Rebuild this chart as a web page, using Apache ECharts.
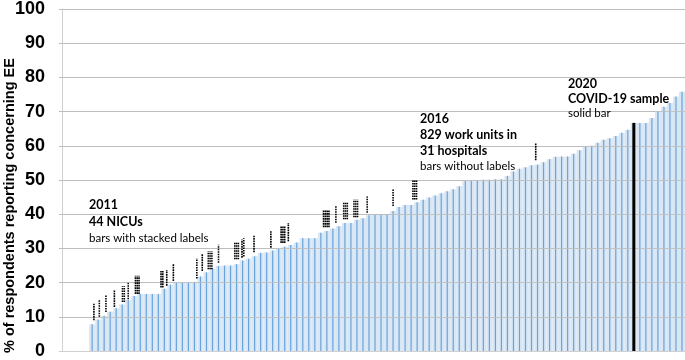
<!DOCTYPE html>
<html>
<head>
<meta charset="utf-8">
<script src="https://cdn.jsdelivr.net/npm/echarts@6/dist/echarts.min.js"></script>
<style>html,body{margin:0;padding:0;background:#fff}#c{width:685px;height:360px}</style>
</head>
<body>
<div id="c"></div>
<script>
// Rank positions (columns) along the x axis
const ranks = Array.from({length: 104}, (_, i) => String(i + 1));
// % reporting concerning EE, sorted ascending (first 5 positions empty)
const pctValues = [null, null, null, null, null,
  7.8, 9.2, 10.3, 11.5, 12.5, 13.6, 14.9, 16.1, 16.7, 16.7,
  16.7, 16.7, 18.2, 19.4, 20.1, 20.1, 20.2, 20.2, 21.8, 23,
  24.1, 24.9, 25, 25, 25.4, 26.5, 27, 27.7, 28.7, 28.8,
  29.4, 30.1, 30.5, 31, 31.7, 33, 33, 33, 34.6, 35.1,
  35.8, 36.5, 37.4, 37.4, 38.4, 38.8, 39.7, 39.8, 39.8, 39.8,
  40.9, 42.1, 42.7, 42.7, 43.5, 44.2, 44.9, 45.5, 46.1, 46.7,
  47.3, 48.2, 50, 50, 50, 50.1, 50.1, 50.2, 50.2, 51.2,
  52.5, 53.3, 53.7, 54.3, 54.5, 55.2, 56.1, 56.8, 56.9, 56.9,
  57.7, 58.7, 59.7, 60, 60.9, 61.8, 62.2, 62.9, 63.8, 64.7,
  66.7, 66.7, 66.7, 68.1, 70.2, 71.4, 72.5, 74.4, 75.8];
// 2020 COVID-19 sample (solid bar): [position, value]
const covidBar = [[95, 66.7]];
// 2011 NICU stacked labels: [position, from %, to %, number of stacked columns]
const stackedLabels = [
  [5.3, 9.0, 13.8, 1], [6.2, 10.0, 15.0, 1], [7.3, 11.4, 16.2, 1], [8.7, 12.9, 17.7, 1],
  [10.2, 14.3, 18.9, 2], [11.0, 15.1, 19.9, 1], [12.5, 16.7, 22.0, 3], [16.6, 18.6, 23.4, 2],
  [17.4, 19.1, 23.7, 1], [18.5, 20.5, 25.5, 1], [22.4, 21.2, 27.1, 1], [23.3, 23.4, 28.5, 1],
  [24.6, 23.9, 29.2, 3], [26.0, 25.8, 31.1, 1], [29.0, 26.8, 31.8, 3], [29.9, 27.3, 32.6, 1],
  [30.2, 27.6, 33.0, 1], [31.9, 28.9, 33.7, 1], [34.7, 30.2, 35.0, 1], [36.7, 31.6, 36.4, 3],
  [37.6, 32.1, 37.4, 1], [43.9, 36.2, 41.2, 4], [45.5, 37.5, 42.5, 1], [47.1, 38.5, 43.6, 3],
  [48.8, 39.1, 44.3, 3], [50.7, 40.4, 45.2, 1], [55.0, 42.4, 47.5, 1], [58.6, 44.3, 49.9, 3],
  [78.7, 55.8, 60.9, 1]];
// Y ticks
const yTicks = [0, 10, 20, 30, 40, 50, 60, 70, 80, 90, 100];
const yTitle = '% of respondents reporting concerning EE';
const notes = [
  ['2011', '44 NICUs', 'bars with stacked labels'],
  ['2016', '829 work units in', '31 hospitals', 'bars without labels'],
  ['2020', 'COVID-19 sample', 'solid bar']
];

const chart = echarts.init(document.getElementById('c'));
const grid = {left: 59, right: 0, top: 6, bottom: 7};
const catAxis = (show) => ({
  type: 'category', data: ranks, gridIndex: 0,
  axisLine: {show: show, lineStyle: {color: '#d0d0d0'}},
  axisTick: {show: false}, axisLabel: {show: false}, splitLine: {show: false}
});

function renderLabels(params, api) {
  const x = api.value(0), n = api.value(3);
  const p0 = api.coord([x, api.value(1)]);
  const p1 = api.coord([x, api.value(2)]);
  const children = [];
  for (let k = 0; k < n; k++) {
    const dx = (k - (n - 1) / 2) * 1.8;
    children.push({
      type: 'line',
      shape: {x1: p0[0] + dx, y1: p0[1], x2: p1[0] + dx, y2: p1[1]},
      style: {stroke: '#000', lineWidth: 1.6, lineDash: [1.6, 0.9]}
    });
  }
  return {type: 'group', children};
}

function noteBlock(lines, x, y, gap) {
  return lines.map((t, i) => ({
    type: 'text', left: x, top: y + i * gap, z: 100,
    style: {text: t, fill: '#000', font: (lines.length - 1 === i ? 'normal 11.5px Lato' : 'bold 12.5px Lato')}
  }));
}

chart.setOption({
  animation: false,
  grid: grid,
  xAxis: [catAxis(true), catAxis(false),
    {type: 'value', min: -0.5, max: 103.5, show: false, gridIndex: 0}],
  yAxis: {
    type: 'value', min: 0, max: 100, interval: 10,
    axisLine: {show: true, lineStyle: {color: '#d0d0d0'}},
    axisTick: {show: false},
    splitLine: {lineStyle: {color: '#bdbdbd', width: 1}},
    axisLabel: {color: '#000', fontFamily: 'Liberation Sans', fontWeight: 'bold', fontSize: 18, margin: 14,
      formatter: v => yTicks.includes(v) ? String(v) : ''}
  },
  graphic: [
    {type: 'text', rotation: Math.PI / 2, x: 2, y: 353, z: 100,
     style: {text: yTitle, fill: '#000', font: 'bold 14.5px "Liberation Sans"'}},
    ...noteBlock(notes[0], 89, 198, 17),
    ...noteBlock(notes[1], 420, 112, 16),
    ...noteBlock(notes[2], 568, 77, 15)
  ],
  series: [
    {type: 'bar', xAxisIndex: 0, data: pctValues, barWidth: '100%', barGap: 0, z: 1,
     itemStyle: {color: '#d9e7f5'}, silent: true},
    {type: 'bar', xAxisIndex: 1, data: pctValues, barWidth: 1.2, z: 2,
     itemStyle: {color: '#6aa3da'}, silent: true},
    {type: 'bar', xAxisIndex: 2, data: covidBar, barWidth: 3, z: 8,
     itemStyle: {color: '#000'}, silent: true,
     markLine: {silent: true, symbol: 'none', z: 7, label: {show: false},
       lineStyle: {color: '#bdbdbd', width: 1, type: 'solid', opacity: 0.85},
       data: yTicks.slice(1).map(v => ({yAxis: v}))}},
    {type: 'custom', xAxisIndex: 2, data: stackedLabels, renderItem: renderLabels, z: 9, silent: true}
  ]
});
</script>
</body>
</html>
